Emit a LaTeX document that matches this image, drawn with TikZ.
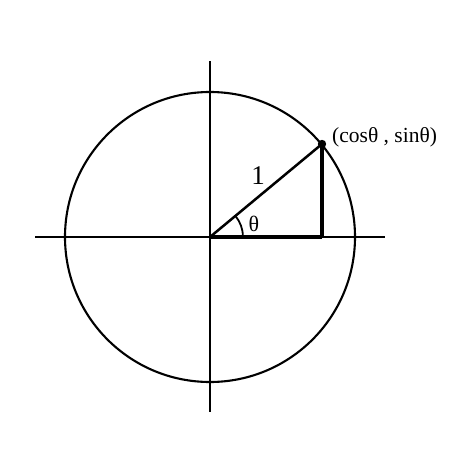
\documentclass[tikz,border=0pt]{standalone}
\usepackage{fontspec}
\setmainfont{Liberation Serif}
\begin{document}
\begin{tikzpicture}[x=1pt,y=-1pt,
  axis/.style={line width=2.1pt},
  thin line/.style={line width=2.1pt},
  thick line/.style={line width=4.2pt},
  lbl/.style={inner sep=0pt, font=\fontsize{21.5}{25}\selectfont}]
\useasboundingbox (0,0) rectangle (474,474);
\coordinate (O) at (210,237);
\coordinate (xl) at (35,237);
\coordinate (xr) at (385,237);
\coordinate (yt) at (210,61);
\coordinate (yb) at (210,412);
\coordinate (P) at (322,144);
\coordinate (F) at (322,237);
\draw[axis] (xl) -- (xr);
\draw[axis] (yt) -- (yb);
\draw[thin line] (O) circle[radius=145];
\draw[thick line] (O) -- (F);
\draw[thick line] (F) -- (P);
\draw[line width=2.5pt] (O) -- (P);
\draw[line width=1.8pt] (243,237) arc[start angle=0, end angle=-39.6, radius=33];
\fill (P) circle[radius=4.2];
\node[lbl, font=\fontsize{27}{30}\selectfont] (one) at (258,176) {1};
\node[lbl, font=\fontsize{22}{25}\selectfont] (th) at (254,224) {θ};
\node[lbl, anchor=west] (pt) at (332,137) {(cosθ , sinθ)};
\end{tikzpicture}
\end{document}
